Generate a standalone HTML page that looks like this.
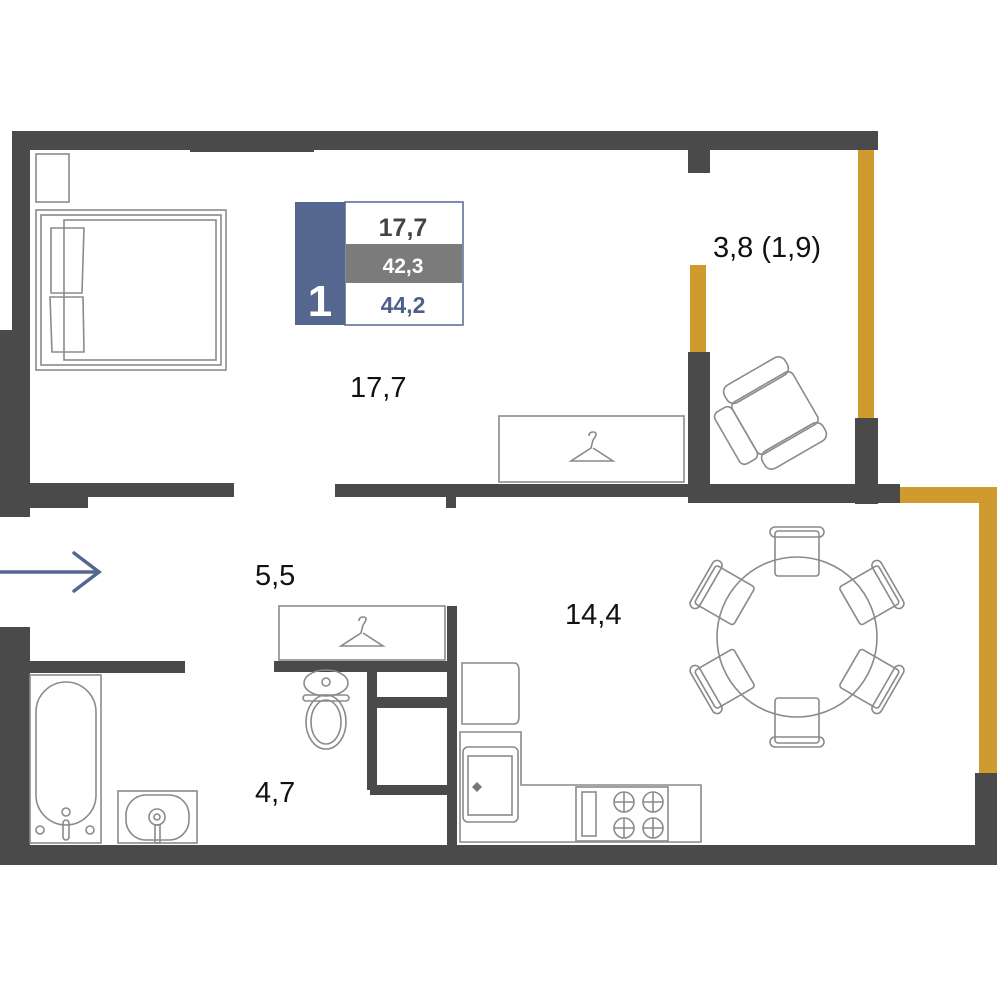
<!DOCTYPE html>
<html><head><meta charset="utf-8"><style>
html,body{margin:0;padding:0;background:#fff;width:1000px;height:1000px;overflow:hidden}
svg{display:block}
text{font-family:"Liberation Sans",sans-serif}
</style></head><body>
<svg width="1000" height="1000" viewBox="0 0 1000 1000" xmlns="http://www.w3.org/2000/svg">
<g fill="#4a4a4a">
<rect x="12" y="131" width="866" height="19"/>
<rect x="190" y="131" width="124" height="21"/>
<rect x="12" y="131" width="18" height="386"/>
<rect x="0" y="330" width="30" height="187"/>
<rect x="688" y="150" width="22" height="23"/>
<rect x="688" y="352" width="22" height="150"/>
<rect x="855" y="418" width="23" height="86"/>
<rect x="30" y="483" width="204" height="14"/>
<rect x="30" y="483" width="58" height="25"/>
<rect x="335" y="484" width="565" height="13"/>
<rect x="688" y="484" width="212" height="19"/>
<rect x="446" y="497" width="10" height="11"/>
<rect x="975" y="773" width="22" height="92"/>
<rect x="12" y="845" width="985" height="20"/>
<rect x="0" y="627" width="30" height="238"/>
<rect x="30" y="661" width="155" height="12"/>
<rect x="274" y="661" width="173" height="11"/>
<rect x="447" y="606" width="10" height="259"/>
<rect x="367" y="672" width="10" height="118"/>
<rect x="377" y="697" width="70" height="11"/>
<rect x="370" y="785" width="77" height="10"/>
</g>
<g fill="#cf9a2e">
<rect x="858" y="150" width="16" height="268"/>
<rect x="690" y="265" width="16" height="87"/>
<rect x="900" y="487" width="97" height="16"/>
<rect x="979" y="487" width="18" height="286"/>
</g>
<g fill="none" stroke="#8a8a8a" stroke-width="1.6">
<rect x="36" y="154" width="33" height="48"/>
<rect x="36" y="210" width="190" height="160"/>
<rect x="41" y="215" width="180" height="150"/>
<rect x="64" y="220" width="152" height="140"/>
<path d="M51 228 L84 228 L82 293 L51 293 Z"/>
<path d="M50 297 L83 297 L84 352 L52 352 Z"/>
<rect x="499" y="416" width="185" height="66"/>
<path d="M593 440 q6 -8 0 -8 q-4 0 -4 4 M593 440 l-2 8 l-20 13 h42 l-20 -13"/>
<rect x="279" y="606" width="166" height="54"/>
<path d="M363 625 q6 -8 0 -8 q-4 0 -4 4 M363 625 l-2 8 l-20 13 h42 l-20 -13"/>
<g transform="translate(775 413) rotate(-30)">
<rect x="-35" y="-30" width="70" height="60" rx="6"/>
<rect x="-55" y="-30" width="20" height="60" rx="6"/>
<rect x="-35" y="-48" width="70" height="20" rx="8"/>
<rect x="-35" y="28" width="70" height="20" rx="8"/>
</g>
<circle cx="797" cy="637" r="80"/>
<g id="ch"><rect x="775" y="531" width="44" height="45" rx="3"/><rect x="770" y="527" width="54" height="10" rx="5"/></g>
<use href="#ch" transform="rotate(60 797 637)"/>
<use href="#ch" transform="rotate(120 797 637)"/>
<use href="#ch" transform="rotate(180 797 637)"/>
<use href="#ch" transform="rotate(240 797 637)"/>
<use href="#ch" transform="rotate(300 797 637)"/>
<path d="M462 663 h52 q5 0 5 8 v45 q0 8 -5 8 h-52 Z"/>
<path d="M460 732 h61 v53 h180 v57 h-241 Z"/>
<rect x="463" y="747" width="55" height="75" rx="5"/>
<rect x="468" y="756" width="44" height="59"/>
<rect x="576" y="787" width="92" height="54"/>
<rect x="582" y="792" width="14" height="44"/>
<circle cx="624" cy="802" r="10"/><circle cx="653" cy="802" r="10"/>
<circle cx="624" cy="828" r="10"/><circle cx="653" cy="828" r="10"/>
<path d="M614 802h20M624 792v20M643 802h20M653 792v20M614 828h20M624 818v20M643 828h20M653 818v20"/>
<rect x="30" y="675" width="71" height="168"/>
<rect x="36" y="682" width="60" height="143" rx="30"/>
<circle cx="66" cy="812" r="4"/><circle cx="40" cy="830" r="4"/><circle cx="90" cy="830" r="4"/>
<rect x="63" y="820" width="6" height="20" rx="3"/>
<rect x="118" y="791" width="79" height="52"/>
<rect x="126" y="795" width="63" height="45" rx="20"/>
<circle cx="157" cy="817" r="8"/><circle cx="157" cy="817" r="3"/>
<rect x="155" y="825" width="5" height="18"/>
<ellipse cx="326" cy="683" rx="22" ry="13"/>
<rect x="303" y="695" width="46" height="6" rx="3"/>
<ellipse cx="326" cy="722" rx="20" ry="27"/>
<ellipse cx="326" cy="722" rx="15" ry="22"/>
<circle cx="326" cy="682" r="4"/>
</g>
<path d="M472 787 l5 -5 l5 5 l-5 5 Z" fill="#777"/>
<rect x="295" y="202" width="50" height="123" fill="#55678f"/>
<rect x="345" y="202" width="118" height="123" fill="#fff" stroke="#55678f" stroke-width="1.5"/>
<rect x="346" y="244" width="116" height="39" fill="#7b7b7b"/>
<text x="320" y="316" font-size="44" font-weight="bold" fill="#fff" text-anchor="middle">1</text>
<text x="403" y="236" font-size="25" font-weight="bold" fill="#444" text-anchor="middle">17,7</text>
<text x="403" y="273" font-size="21" font-weight="bold" fill="#fff" text-anchor="middle">42,3</text>
<text x="403" y="313" font-size="23" font-weight="bold" fill="#4d5f8a" text-anchor="middle">44,2</text>
<g font-size="29" fill="#111">
<text x="713" y="257">3,8 (1,9)</text>
<text x="350" y="397">17,7</text>
<text x="255" y="585">5,5</text>
<text x="565" y="624">14,4</text>
<text x="255" y="802">4,7</text>
</g>
<g stroke="#55678f" stroke-width="3.5" fill="none" stroke-linecap="round">
<path d="M0 572 H99"/><path d="M74 553 L99 572 L74 591"/>
</g>
</svg>
</body></html>
